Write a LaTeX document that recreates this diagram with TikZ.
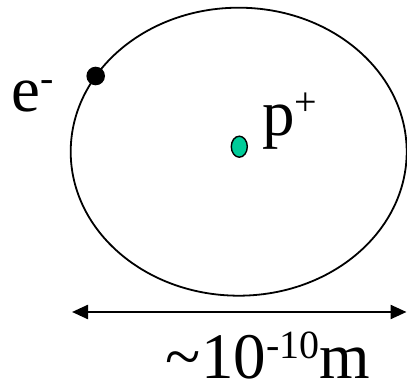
\documentclass[tikz,border=0pt]{standalone}
\usepackage{fontspec}
\setmainfont{Liberation Serif}
\usetikzlibrary{arrows.meta, shapes.geometric}
\definecolor{protongreen}{RGB}{0,204,153}
\newcommand\supscr[1]{\raisebox{20pt}{\fontsize{40}{40}\selectfont #1}}
\tikzset{
  lbl/.style={font=\fontsize{65}{70}\selectfont, inner sep=0pt},
  dimline/.style={line width=2.4pt, {Triangle[length=16pt,width=14pt]}-{Triangle[length=16pt,width=14pt]}}
}
\begin{document}
\begin{tikzpicture}[x=1pt, y=1pt]
  \useasboundingbox (0,0) rectangle (407,380);
  % orbit
  \draw[line width=1.8pt] (238.7,228.3) ellipse [x radius=168pt, y radius=144pt];
  % particles
  \node[circle, fill=black, inner sep=0pt, minimum size=18.6pt] (electron) at (95.7,304) {};
  \node[ellipse, draw=black, line width=1.4pt, fill=protongreen, inner sep=0pt,
        minimum width=16pt, minimum height=21pt] (proton) at (239.3,233.3) {};
  % labels
  \node[lbl, anchor=base west] (elabel) at (11,268) {e\supscr{-}};
  \node[lbl, anchor=base west] (plabel) at (262,244) {p\supscr{+}};
  % size
  \coordinate (dimleft) at (72,68);
  \coordinate (dimright) at (406.5,68);
  \draw[dimline] (dimleft) -- (dimright);
  \node[lbl, anchor=base] (size) at (268,1) {\textasciitilde10\supscr{-10}m};
\end{tikzpicture}
\end{document}
